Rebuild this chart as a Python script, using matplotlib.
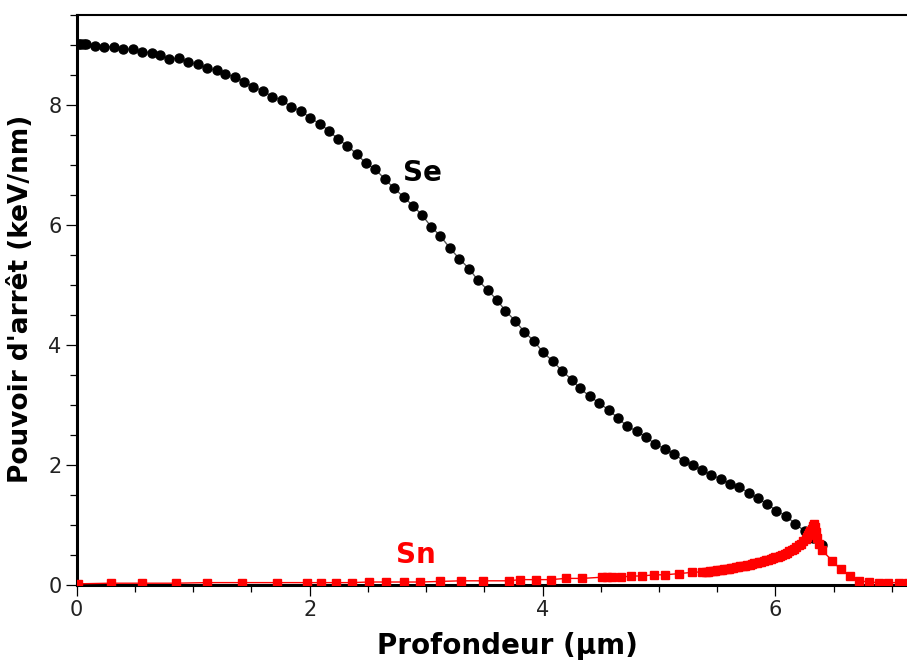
import numpy as np
import matplotlib
matplotlib.use('Agg')
import matplotlib.pyplot as plt
from matplotlib.ticker import MultipleLocator

# Se - pouvoir d'arret electronique (keV/nm)
se_x = [0.00, 0.02, 0.04, 0.06, 0.08, 0.157, 0.237, 0.320, 0.395, 0.481, 0.558, 0.647, 0.716,
        0.796, 0.876, 0.959, 1.040, 1.117, 1.203, 1.277, 1.363, 1.440, 1.517, 1.603, 1.680,
        1.761, 1.841, 1.924, 2.004, 2.090, 2.168, 2.242, 2.325, 2.405, 2.483, 2.563, 2.649,
        2.726, 2.812, 2.887, 2.964, 3.044, 3.121, 3.207, 3.284, 3.370, 3.445, 3.528, 3.608,
        3.682, 3.766, 3.843, 3.930, 4.003, 4.089, 4.167, 4.253, 4.318, 4.404, 4.487, 4.567,
        4.648, 4.725, 4.811, 4.891, 4.968, 5.048, 5.126, 5.211, 5.289, 5.369, 5.447, 5.533,
        5.613, 5.690, 5.770, 5.847, 5.928, 6.008, 6.091, 6.171, 6.251, 6.32, 6.40]
se_y = [9.02, 9.02, 9.02, 9.02, 9.01, 8.98, 8.97, 8.97, 8.93, 8.93, 8.89, 8.87, 8.83,
        8.77, 8.78, 8.71, 8.68, 8.61, 8.58, 8.52, 8.46, 8.39, 8.30, 8.23, 8.14,
        8.08, 7.97, 7.90, 7.79, 7.68, 7.57, 7.43, 7.32, 7.18, 7.03, 6.93, 6.76,
        6.61, 6.46, 6.32, 6.17, 5.97, 5.82, 5.61, 5.44, 5.27, 5.08, 4.92, 4.75,
        4.57, 4.40, 4.22, 4.06, 3.88, 3.73, 3.57, 3.42, 3.28, 3.15, 3.03, 2.92,
        2.78, 2.65, 2.56, 2.46, 2.35, 2.27, 2.19, 2.07, 2.00, 1.92, 1.83, 1.77,
        1.68, 1.64, 1.53, 1.45, 1.35, 1.24, 1.15, 1.02, 0.90, 0.78, 0.66]

# Sn - pouvoir d'arret nucleaire (keV/nm)
sn_x = [0.01, 0.29, 0.56, 0.85, 1.12, 1.42, 1.72, 1.98, 2.10, 2.23, 2.36, 2.51, 2.66,
        2.81, 2.95, 3.12, 3.30, 3.49, 3.71, 3.81, 3.94, 4.07, 4.20, 4.34, 4.51, 4.55,
        4.60, 4.67, 4.76, 4.85, 4.96, 5.05, 5.17, 5.28, 5.37, 5.40, 5.42, 5.44, 5.46,
        5.48, 5.50, 5.52, 5.54, 5.56, 5.58, 5.60, 5.62, 5.64, 5.66, 5.68, 5.70, 5.72,
        5.74, 5.76, 5.78, 5.80, 5.82, 5.84, 5.86, 5.88, 5.90, 5.92, 5.94, 5.96, 5.98,
        6.00, 6.02, 6.04, 6.06, 6.08, 6.10, 6.12, 6.14, 6.16, 6.18, 6.20, 6.22, 6.24,
        6.26, 6.27, 6.28, 6.29, 6.30, 6.31, 6.32, 6.33, 6.34, 6.35, 6.36, 6.37, 6.40,
        6.49, 6.56, 6.64, 6.72, 6.80, 6.89, 6.97, 7.06, 7.14]
sn_y = [0.02, 0.03, 0.03, 0.03, 0.04, 0.04, 0.04, 0.04, 0.04, 0.04, 0.04, 0.05, 0.05,
        0.05, 0.05, 0.06, 0.07, 0.07, 0.07, 0.09, 0.09, 0.09, 0.11, 0.11, 0.13, 0.13,
        0.13, 0.13, 0.15, 0.15, 0.17, 0.17, 0.19, 0.21, 0.22, 0.22, 0.225, 0.23, 0.235,
        0.24, 0.245, 0.25, 0.255, 0.26, 0.265, 0.27, 0.28, 0.29, 0.295, 0.30, 0.31, 0.32,
        0.325, 0.33, 0.34, 0.35, 0.36, 0.37, 0.38, 0.39, 0.40, 0.41, 0.42, 0.43, 0.445,
        0.46, 0.47, 0.48, 0.50, 0.52, 0.54, 0.56, 0.58, 0.60, 0.63, 0.66, 0.69, 0.73,
        0.77, 0.80, 0.83, 0.86, 0.90, 0.94, 0.98, 1.02, 0.97, 0.88, 0.78, 0.68, 0.58,
        0.40, 0.26, 0.15, 0.07, 0.05, 0.04, 0.04, 0.04, 0.04]

fig = plt.figure(figsize=(9.07, 6.66), dpi=100)
ax = fig.add_axes([0.0846, 0.1216, 0.9154, 0.8559])

ax.plot(se_x, se_y, '-', color='#555555', lw=1.0, marker='o', ms=6.5, mfc='black', mec='black', zorder=3)
ax.plot(sn_x, sn_y, '-', color='red', lw=1.0, marker='s', ms=6, mfc='red', mec='red', zorder=4)

ax.text(2.97, 6.87, 'Se', fontsize=20, fontweight='bold', color='black', ha='center', va='center')
ax.text(2.915, 0.5, 'Sn', fontsize=20, fontweight='bold', color='red', ha='center', va='center')

ax.set_xlim(0, 7.13)
ax.set_ylim(0, 9.5)
ax.xaxis.set_major_locator(MultipleLocator(2))
ax.xaxis.set_minor_locator(MultipleLocator(0.5))
ax.yaxis.set_major_locator(MultipleLocator(2))
ax.yaxis.set_minor_locator(MultipleLocator(0.5))
ax.tick_params(which='major', length=8, width=0.9, labelsize=15, pad=3, labelcolor='#222222')
ax.tick_params(which='minor', length=5, width=0.9)

ax.spines['right'].set_visible(False)
ax.spines['left'].set_linewidth(2.2)
ax.spines['bottom'].set_linewidth(2.2)
ax.spines['top'].set_linewidth(1.5)

ax.set_xlabel('Profondeur (µm)', fontsize=20, fontweight='bold')
ax.set_ylabel("Pouvoir d'arrêt (keV/nm)", fontsize=19, fontweight='bold')
ax.xaxis.set_label_coords(0.519, -0.083)
ax.yaxis.set_label_coords(-0.052, 0.502)

fig.savefig('out.png', dpi=100)
